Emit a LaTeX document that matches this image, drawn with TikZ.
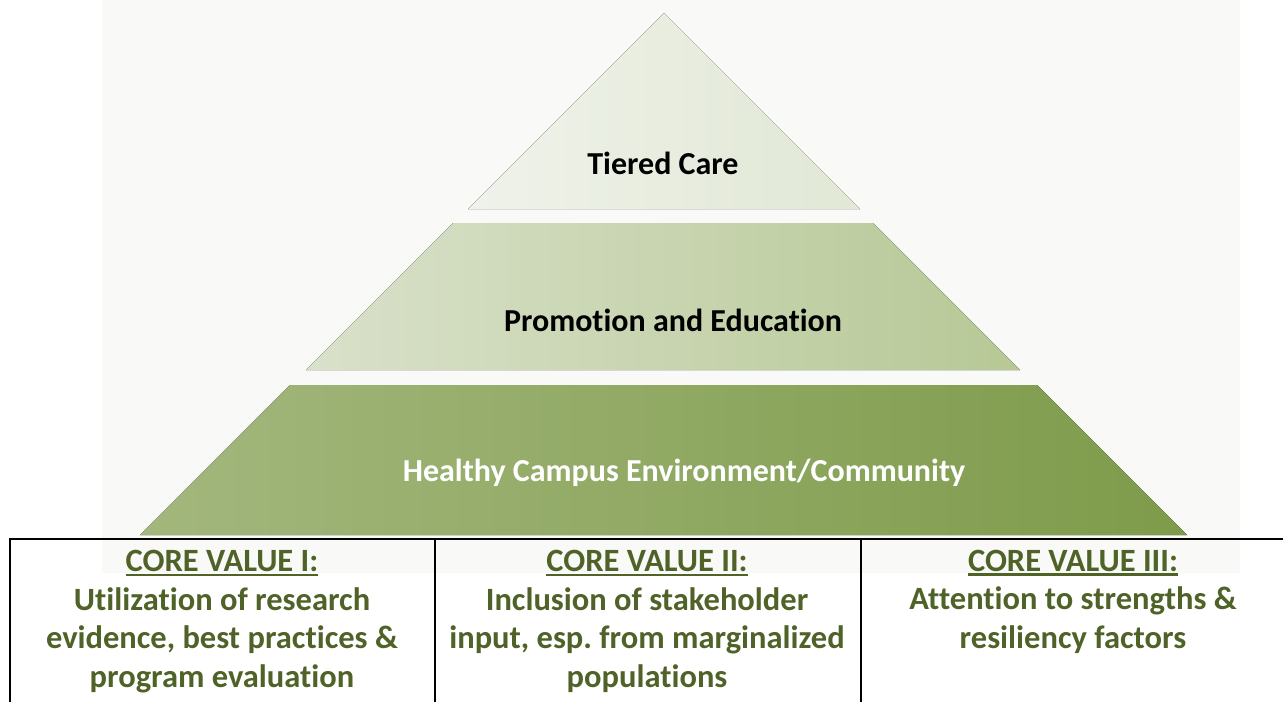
\documentclass[tikz,border=0pt]{standalone}
\usepackage{fontspec}
\setmainfont{Carlito}[Ligatures=NoCommon]
\frenchspacing

\definecolor{paper}{HTML}{F9F9F7}
\definecolor{topL}{HTML}{EFF2EA}
\definecolor{topR}{HTML}{E1E8D5}
\definecolor{midL}{HTML}{D9E1CA}
\definecolor{midR}{HTML}{B7C896}
\definecolor{baseL}{HTML}{A3B77D}
\definecolor{baseR}{HTML}{7E9B4A}
\definecolor{valuegreen}{HTML}{4F6228}

% thick underline for the cell headings
\newcommand{\coreline}[1]{\setbox0\hbox{#1}\rlap{\rule[-4.5pt]{\wd0}{2.4pt}}\box0}

\begin{document}
\begin{tikzpicture}[x=1pt,y=-1pt,
	tier/.style={font=\fontsize{32}{38}\selectfont\bfseries},
	cell/.style={font=\fontsize{32.5}{38.5}\selectfont\bfseries,text=valuegreen,align=center,anchor=base},
	rule/.style={line width=2pt}]
	\useasboundingbox (0,0) rectangle (1283,702);
	
	% backdrop behind the pyramid
	\fill[paper] (102,0) rectangle (1240,573);
	
	% the three tiers
	\fill[left color=topL,right color=topR] (664,13) -- (860,209) -- (468,209) -- cycle;
	\fill[left color=midL,right color=midR] (453,223) -- (873,223) -- (1020,370) -- (306,370) -- cycle;
	\fill[left color=baseL,right color=baseR] (290,385) -- (1037,385) -- (1187,535) -- (140,535) -- cycle;
	
	\node[tier] (care) at (663,163) {Tiered Care};
	\node[tier] (promo) at (673,320) {Promotion and Education};
	\node[tier,text=white] (env) at (684,473) {Healthy Campus Environment/Community};
	
	% table of core values
	\draw[rule] (10,702) -- (10,539) -- (1283,539);
	\draw[rule] (435,539) -- (435,702);
	\draw[rule] (861,539) -- (861,702);
	
	% anchored on the baseline of the last line
	\node[cell] (valueI) at (222,687) {\coreline{CORE VALUE I:}\\Utilization of research\\evidence, best practices \&\\program evaluation};
	\node[cell] (valueII) at (647,687) {\coreline{CORE VALUE II:}\\Inclusion of stakeholder\\input, esp. from marginalized\\populations};
	\node[cell] (valueIII) at (1073,648) {\coreline{CORE VALUE III:}\\Attention to strengths \&\\resiliency factors};
	
\end{tikzpicture}
\end{document}
